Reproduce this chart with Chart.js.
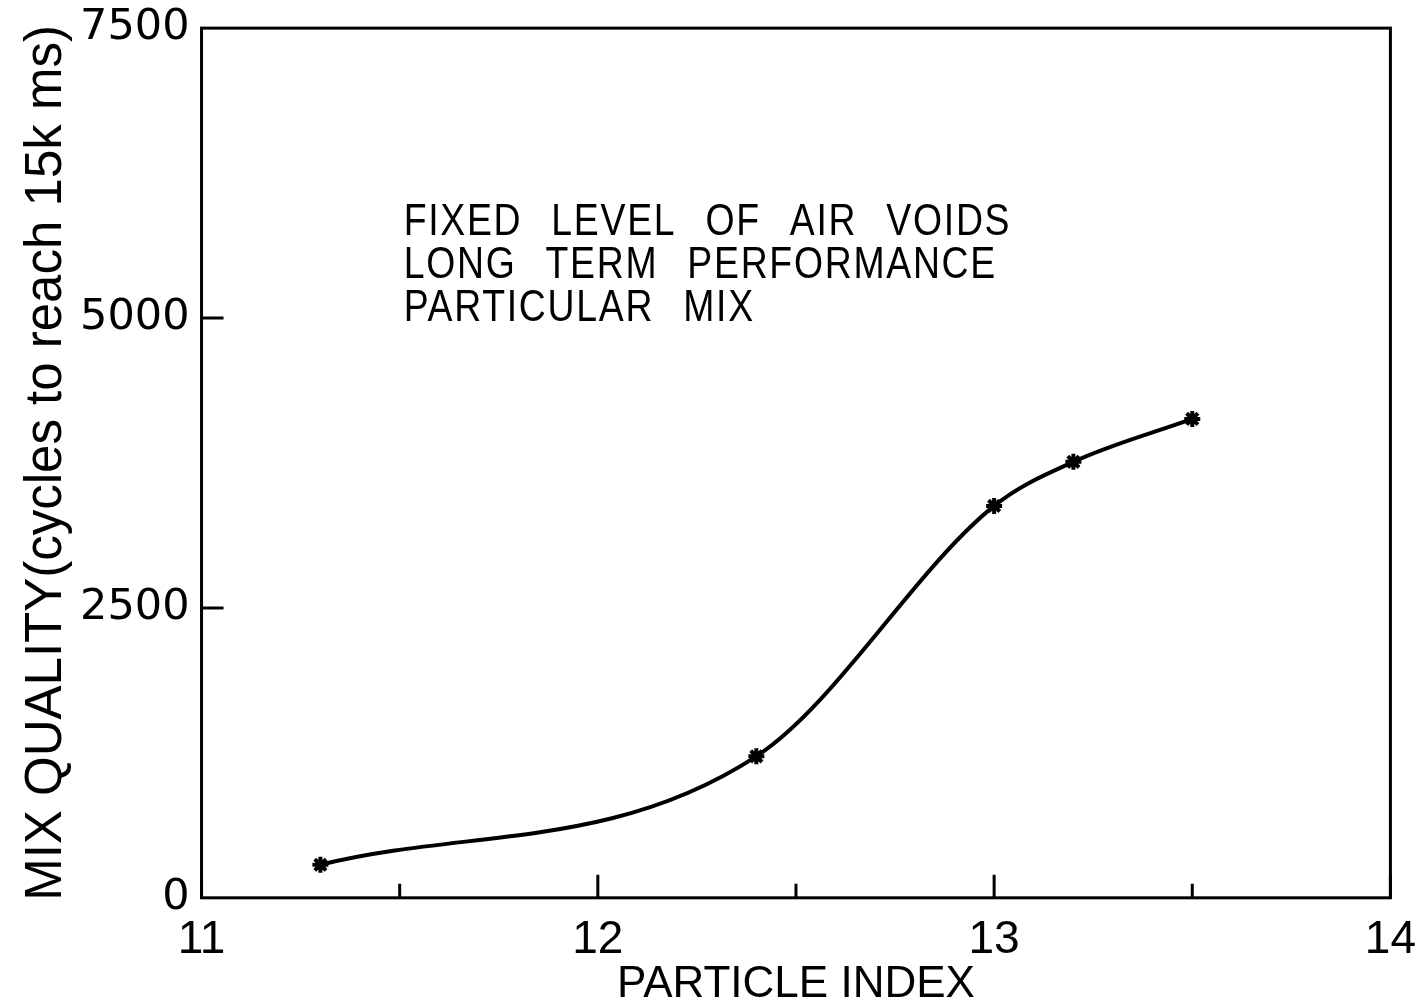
<!DOCTYPE html>
<html>
<head>
<meta charset="utf-8">
<script src="https://cdn.jsdelivr.net/npm/chart.js@4/dist/chart.umd.min.js"></script>
<style>
  html, body { margin: 0; padding: 0; background: #fff; }
  #wrap { width: 1416px; height: 1006px; }
</style>
</head>
<body>
<div id="wrap"><canvas id="myChart"></canvas></div>
<script>
// values
const particleIndex = [11.3, 12.4, 13.0, 13.2, 13.5]
const mixQuality = [285, 1220, 3380, 3760, 4130]
const xMajor = [11, 12, 13, 14]
const xMinor = [11.5, 12.5, 13.5]
const yMajor = [0, 2500, 5000, 7500]
const noteLines = ['FIXED LEVEL OF AIR VOIDS', 'LONG TERM PERFORMANCE', 'PARTICULAR MIX']

const sans = '"Liberation Sans", Arial, sans-serif'

// frame, inward ticks and the note text
const framePlugin = {
  id: 'framePlugin',
  afterDraw(chart) {
    const ctx = chart.ctx
    const x = chart.scales.x
    const y = chart.scales.y
    const a = chart.chartArea
    ctx.save()
    ctx.strokeStyle = '#000'
    ctx.lineWidth = 3
    ctx.strokeRect(a.left, a.top, a.right - a.left, a.bottom - a.top)
    ctx.beginPath()
    xMajor.forEach(v => {
      const px = x.getPixelForValue(v)
      ctx.moveTo(px, a.bottom); ctx.lineTo(px, a.bottom - 23)
    })
    xMinor.forEach(v => {
      const px = x.getPixelForValue(v)
      ctx.moveTo(px, a.bottom); ctx.lineTo(px, a.bottom - 14)
    })
    yMajor.slice(1, -1).forEach(v => {
      const py = y.getPixelForValue(v)
      ctx.moveTo(a.left, py); ctx.lineTo(a.left + 22, py)
    })
    ctx.stroke()

    // note
    ctx.fillStyle = '#000'
    ctx.font = '44px ' + sans
    ctx.textBaseline = 'alphabetic'
    ctx.textAlign = 'left'
    if ('letterSpacing' in ctx) ctx.letterSpacing = '2px'
    if ('wordSpacing' in ctx) ctx.wordSpacing = '20px'
    ctx.translate(x.getPixelForValue(11.51), y.getPixelForValue(5716))
    ctx.scale(0.85, 1)
    noteLines.forEach((t, i) => ctx.fillText(t, 0, i * 43))
    ctx.restore()
  }
}

const data = {
  datasets: [{
    data: particleIndex.map((v, i) => ({ x: v, y: mixQuality[i] })),
    borderColor: '#000',
    backgroundColor: '#000',
    borderWidth: 4,
    pointStyle: 'star',
    pointRadius: 8,
    pointBorderWidth: 4,
    cubicInterpolationMode: 'monotone',
    fill: false
  }]
}

const config = {
  type: 'line',
  data,
  plugins: [framePlugin],
  options: {
    responsive: true,
    maintainAspectRatio: false,
    animation: false,
    layout: { padding: { left: 19, right: 0, top: 0, bottom: 0 } },
    plugins: { legend: { display: false }, tooltip: { enabled: false } },
    scales: {
      x: {
        type: 'linear', min: 11, max: 14,
        grid: { display: false, drawTicks: false },
        border: { display: false },
        ticks: { stepSize: 1, color: '#000', padding: 0, callback: v => String(v),
                 font: { family: sans, size: 46, lineHeight: 1.83 } },
        title: { display: true, text: 'PARTICLE INDEX', color: '#000', padding: { top: -8, bottom: 10 },
                 font: { family: sans, size: 44, lineHeight: 0.5 } }
      },
      y: {
        min: 0, max: 7500,
        grid: { display: false, drawTicks: false },
        border: { display: false },
        ticks: { stepSize: 2500, color: '#000', padding: 12, callback: v => String(v),
                 font: { family: '"DejaVu Sans", sans-serif', size: 43, lineHeight: 0.75 } },
        title: { display: true, text: 'MIX QUALITY(cycles to reach 15k ms)', color: '#000', padding: { top: 0, bottom: -7 },
                 font: { family: sans, size: 51, lineHeight: 1.1 } }
      }
    }
  }
}

const myChart = new Chart(document.getElementById('myChart'), config)
</script>
</body>
</html>
